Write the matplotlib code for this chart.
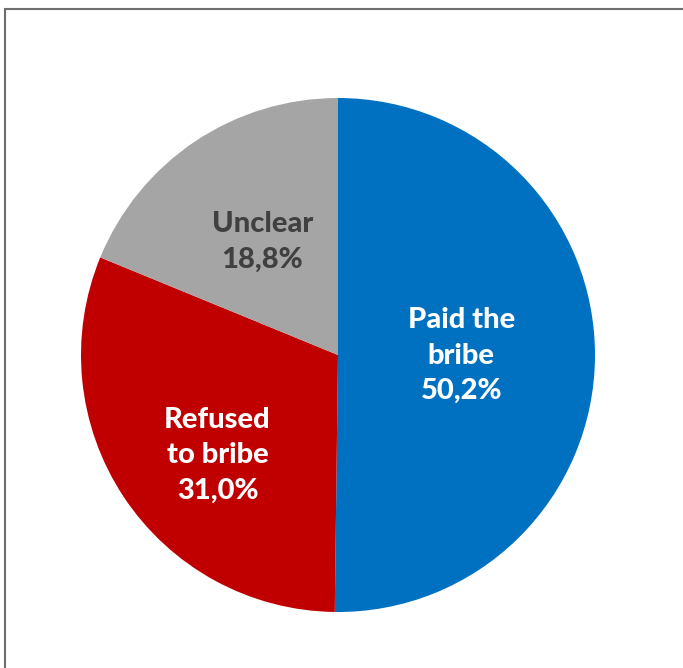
import matplotlib
matplotlib.use("Agg")
import matplotlib.pyplot as plt
from matplotlib.patches import Rectangle
import numpy as np

categories = ["Paid the\nbribe", "Refused\nto bribe", "Unclear"]
values = [50.2, 31.0, 18.8]
value_labels = ["50,2%", "31,0%", "18,8%"]
colors = ["#0070C0", "#C00000", "#A5A5A5"]
text_colors = ["white", "white", "#404040"]
label_radius = [0.48, 0.61, 0.53]
label_angle_shift = [0, 6.3, 0]

W, H = 683, 668
fig = plt.figure(figsize=(W / 100, H / 100), dpi=100)
cx, cy, r = 338, 355, 257
ax = fig.add_axes([(cx - r) / W, (H - cy - r) / H, 2 * r / W, 2 * r / H])
wedges, _ = ax.pie(values, colors=colors, startangle=90, counterclock=False,
                   radius=1, wedgeprops=dict(linewidth=0))
ax.set_xlim(-1, 1)
ax.set_ylim(-1, 1)
ax.set_aspect("equal")
ax.axis("off")

for w, cat, vl, tc, rr, sh in zip(wedges, categories, value_labels, text_colors,
                                  label_radius, label_angle_shift):
    ang = np.deg2rad((w.theta1 + w.theta2) / 2 + sh)
    ax.text(rr * np.cos(ang), rr * np.sin(ang), cat + "\n" + vl,
            ha="center", va="center", color=tc, fontsize=21,
            fontweight="black", family="Lato", linespacing=1.45)

fig.patches.append(Rectangle((5 / W, -0.05), 1.1, (H - 9) / H + 0.05,
                             transform=fig.transFigure, fill=False,
                             edgecolor="#6e6e6e", linewidth=1.5))
fig.savefig("out.png", dpi=100)
